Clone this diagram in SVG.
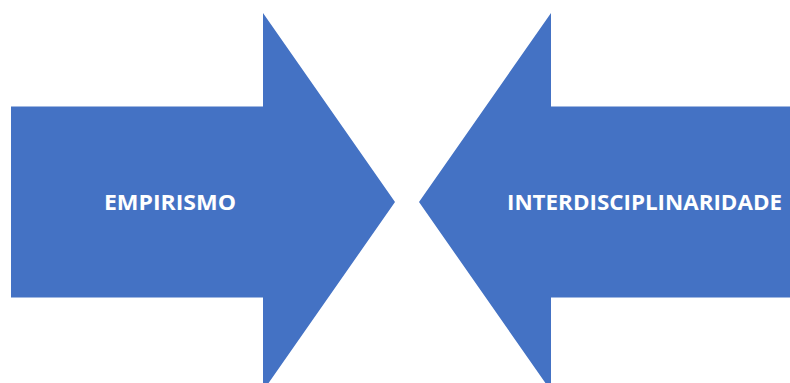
<svg xmlns="http://www.w3.org/2000/svg" width="790" height="383" viewBox="0 0 790 383">
<style>
.arrow{fill:#4472C4;}
.lbl{fill:#FFFFFF;font-family:"Open Sans","Liberation Sans",Arial,sans-serif;font-weight:bold;font-size:21px;text-anchor:middle;}
</style>
<rect width="790" height="383" fill="#FFFFFF"/>
<g id="empirismo">
<polygon class="arrow" points="11,106.5 263,106.5 263,13 395,202 263,391 263,297.5 11,297.5"/>
<text class="lbl" x="170" y="209.5" textLength="132" lengthAdjust="spacingAndGlyphs">EMPIRISMO</text>
</g>
<g id="interdisciplinaridade">
<polygon class="arrow" points="790,106.5 551,106.5 551,13 419,202 551,391 551,297.5 790,297.5"/>
<text class="lbl" x="644.5" y="209.5" textLength="275" lengthAdjust="spacingAndGlyphs">INTERDISCIPLINARIDADE</text>
</g>
<g id="connectors"></g>
</svg>
